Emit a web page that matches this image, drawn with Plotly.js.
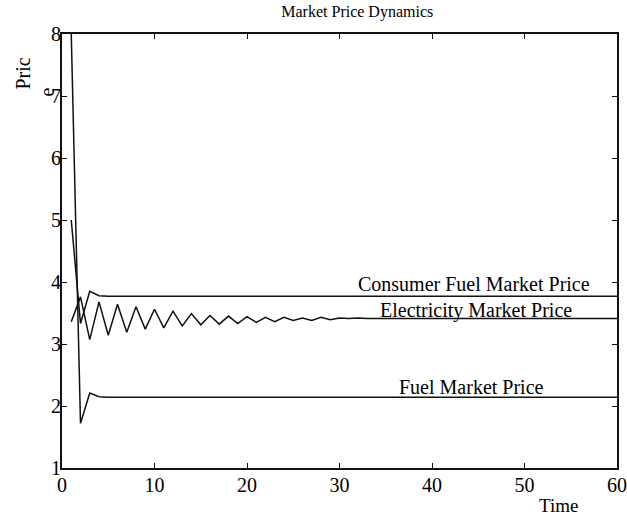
<!DOCTYPE html>
<html>
<head>
<meta charset="utf-8">
<script src="https://cdn.plot.ly/plotly-3.0.1.min.js"></script>
<style>html,body{margin:0;padding:0;background:#fff;}#chart{width:627px;height:515px;}</style>
</head>
<body>
<div id="chart"></div>
<script>
const time = [1,2,3,4,5,6,7,8,9,10,11,12,13,14,15,16,17,18,19,20,21,22,23,24,25,26,27,28,29,30,31,32,33,34,35,36,37,38,39,40,41,42,43,44,45,46,47,48,49,50,51,52,53,54,55,56,57,58,59,60];

const consumerFuelPrice = [5.00,3.33,3.85,3.78,3.77,3.77,3.77,3.77,3.77,3.77,3.77,3.77,3.77,3.77,3.77,3.77,3.77,3.77,3.77,3.77,3.77,3.77,3.77,3.77,3.77,3.77,3.77,3.77,3.77,3.77,3.77,3.77,3.77,3.77,3.77,3.77,3.77,3.77,3.77,3.77,3.77,3.77,3.77,3.77,3.77,3.77,3.77,3.77,3.77,3.77,3.77,3.77,3.77,3.77,3.77,3.77,3.77,3.77,3.77,3.77];

const electricityPrice = [3.36,3.76,3.07,3.68,3.14,3.64,3.19,3.60,3.24,3.56,3.26,3.53,3.29,3.49,3.31,3.46,3.32,3.45,3.33,3.44,3.35,3.43,3.36,3.43,3.38,3.42,3.38,3.43,3.39,3.42,3.41,3.42,3.41,3.41,3.41,3.41,3.41,3.41,3.41,3.41,3.41,3.41,3.41,3.41,3.41,3.41,3.41,3.41,3.41,3.41,3.41,3.41,3.41,3.41,3.41,3.41,3.41,3.41,3.41,3.41];

const fuelPrice = [8.00,1.72,2.21,2.15,2.14,2.14,2.14,2.14,2.14,2.14,2.14,2.14,2.14,2.14,2.14,2.14,2.14,2.14,2.14,2.14,2.14,2.14,2.14,2.14,2.14,2.14,2.14,2.14,2.14,2.14,2.14,2.14,2.14,2.14,2.14,2.14,2.14,2.14,2.14,2.14,2.14,2.14,2.14,2.14,2.14,2.14,2.14,2.14,2.14,2.14,2.14,2.14,2.14,2.14,2.14,2.14,2.14,2.14,2.14,2.14];

const seriesNames = ["Consumer Fuel Market Price", "Electricity Market Price", "Fuel Market Price"];
const xTickVals = [0,10,20,30,40,50,60];
const yTickVals = [1,2,3,4,5,6,7,8];

const FONT = 'Liberation Serif, Times New Roman, serif';
const lineStyle = {color: '#111', width: 1.5};

const traces = [
  {x: time, y: consumerFuelPrice, name: seriesNames[0], mode: 'lines', line: lineStyle},
  {x: time, y: electricityPrice, name: seriesNames[1], mode: 'lines', line: lineStyle},
  {x: time, y: fuelPrice, name: seriesNames[2], mode: 'lines', line: lineStyle}
];

function makeAxis(extra) {
  return Object.assign({
    showgrid: false, zeroline: false, showline: true, linecolor: '#111', linewidth: 2,
    mirror: 'ticks', ticks: 'inside', ticklen: 5, tickwidth: 1, tickcolor: '#111',
    tickfont: {family: 'Times New Roman', size: 20, color: '#000'}
  }, extra);
}

const layout = {
  width: 627, height: 515,
  margin: {l: 62, r: 10, t: 34, b: 47, pad: 0},
  paper_bgcolor: '#fff', plot_bgcolor: '#fff',
  showlegend: false,
  font: {family: FONT, color: '#000', size: 20},
  title: {text: 'Market Price Dynamics', font: {family: FONT, size: 16, color: '#000'},
          xref: 'paper', x: 0.532, xanchor: 'center', yref: 'container', y: 0.978, yanchor: 'middle'},
  xaxis: makeAxis({range: [0, 60], tickvals: xTickVals, ticktext: xTickVals.map(String), ticklabelstandoff: -2}),
  yaxis: makeAxis({range: [1, 8], tickvals: yTickVals, ticktext: yTickVals.map(String), ticklabelstandoff: -5}),
  annotations: [
    {text: seriesNames[0], x: 44.5, y: 3.97, xref: 'x', yref: 'y', showarrow: false,
     font: {family: FONT, size: 20, color: '#000'}, xanchor: 'center', yanchor: 'middle'},
    {text: seriesNames[1], x: 44.8, y: 3.545, xref: 'x', yref: 'y', showarrow: false,
     font: {family: FONT, size: 20, color: '#000'}, xanchor: 'center', yanchor: 'middle'},
    {text: seriesNames[2], x: 44.3, y: 2.31, xref: 'x', yref: 'y', showarrow: false,
     font: {family: FONT, size: 20, color: '#000'}, xanchor: 'center', yanchor: 'middle'},
    {text: 'Time', xref: 'paper', yref: 'paper', x: (558 - 62) / 555, y: -(505 - 468) / 434,
     showarrow: false, font: {family: FONT, size: 19, color: '#000'}, xanchor: 'center', yanchor: 'middle'},
    {text: 'Pric', xref: 'paper', yref: 'paper', x: -(62 - 22.5) / 555, y: (468 - 74) / 434,
     showarrow: false, textangle: -90, font: {family: FONT, size: 20, color: '#000'}, xanchor: 'center', yanchor: 'middle'},
    {text: 'e', xref: 'paper', yref: 'paper', x: -(62 - 46.5) / 555, y: (468 - 92) / 434,
     showarrow: false, textangle: -90, font: {family: FONT, size: 20, color: '#000'}, xanchor: 'center', yanchor: 'middle'}
  ]
};

Plotly.newPlot('chart', traces, layout, {staticPlot: true, displayModeBar: false});
</script>
</body>
</html>
